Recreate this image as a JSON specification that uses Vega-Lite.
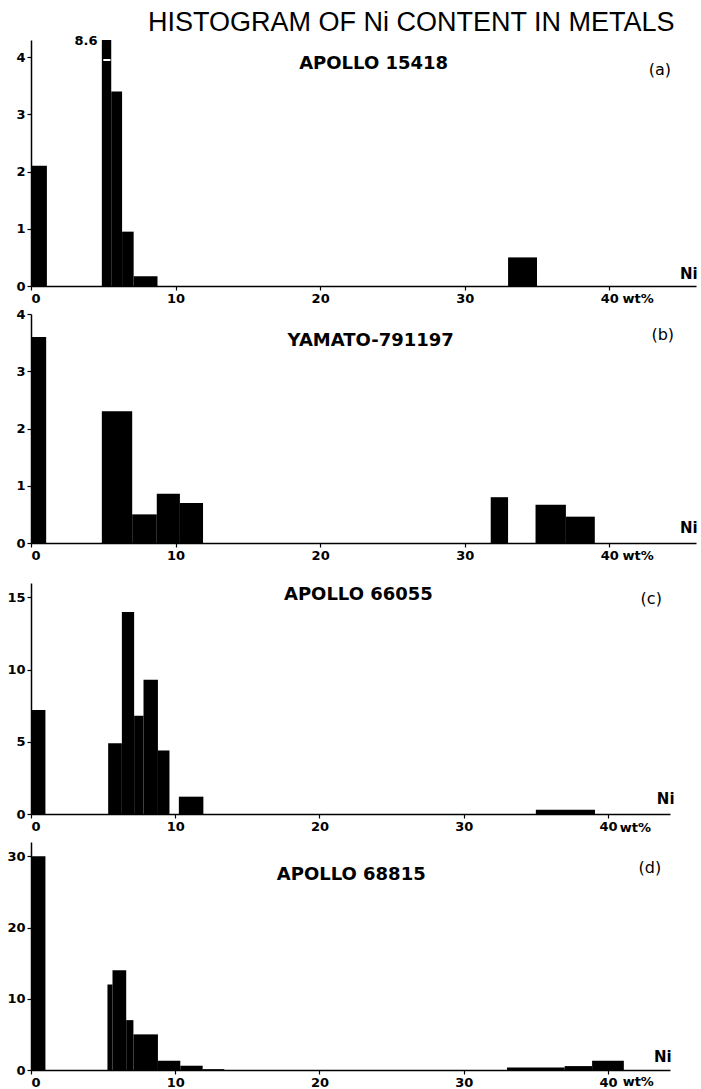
{
  "$schema": "https://vega.github.io/schema/vega-lite/v6.json",
  "padding": {"left": 6, "top": 8, "right": 3, "bottom": 0},
  "datasets": {
    "a": [
      {"lo": 0, "hi": 1.1, "n": 2.1},
      {"lo": 4.9, "hi": 5.55, "n": 8.6},
      {"lo": 5.55, "hi": 6.3, "n": 3.4},
      {"lo": 6.3, "hi": 7.1, "n": 0.95},
      {"lo": 7.1, "hi": 8.75, "n": 0.17},
      {"lo": 33, "hi": 35, "n": 0.5}
    ],
    "b": [
      {"lo": 0, "hi": 1.05, "n": 3.6},
      {"lo": 4.9, "hi": 7.0, "n": 2.3},
      {"lo": 7.0, "hi": 8.7, "n": 0.5},
      {"lo": 8.7, "hi": 10.3, "n": 0.86},
      {"lo": 10.3, "hi": 11.9, "n": 0.7},
      {"lo": 31.8, "hi": 33.0, "n": 0.8},
      {"lo": 34.9, "hi": 37.0, "n": 0.67},
      {"lo": 37.0, "hi": 39.0, "n": 0.46}
    ],
    "c": [
      {"lo": 0, "hi": 1.0, "n": 7.2},
      {"lo": 5.35, "hi": 6.3, "n": 4.9},
      {"lo": 6.3, "hi": 7.15, "n": 14},
      {"lo": 7.15, "hi": 7.8, "n": 6.8},
      {"lo": 7.8, "hi": 8.8, "n": 9.3},
      {"lo": 8.8, "hi": 9.6, "n": 4.4},
      {"lo": 10.25, "hi": 11.95, "n": 1.2},
      {"lo": 35.0, "hi": 39.1, "n": 0.3}
    ],
    "d": [
      {"lo": 0, "hi": 1.0, "n": 30},
      {"lo": 5.3, "hi": 5.65, "n": 12},
      {"lo": 5.65, "hi": 6.6, "n": 14},
      {"lo": 6.6, "hi": 7.1, "n": 7},
      {"lo": 7.1, "hi": 8.8, "n": 5},
      {"lo": 8.8, "hi": 10.35, "n": 1.3},
      {"lo": 10.35, "hi": 11.9, "n": 0.6},
      {"lo": 11.9, "hi": 13.4, "n": 0.12},
      {"lo": 33, "hi": 37, "n": 0.35},
      {"lo": 37, "hi": 38.9, "n": 0.55},
      {"lo": 38.9, "hi": 41.1, "n": 1.3}
    ]
  },
  "vconcat": [
    {
      "bounds": "flush",
      "spacing": 28,
      "vconcat": [
        {
          "width": 665,
          "height": 246,
          "layer": [
            {
              "data": {"name": "a"},
              "mark": {"type": "rect", "color": "black", "clip": true},
              "encoding": {
                "x": {"field": "lo", "type": "quantitative", "scale": {"domain": [0, 46], "nice": false}, "axis": {"title": null, "values": [0, 10, 20, 30, 40], "format": "d", "labelPadding": 2, "tickSize": 4}},
                "x2": {"field": "hi"},
                "y": {"field": "n", "type": "quantitative", "scale": {"domain": [0, 4.3], "nice": false}, "axis": {"title": null, "values": [0, 1, 2, 3, 4], "format": "d", "labelPadding": 2, "tickSize": 4}},
                "y2": {"datum": 0}
              }
            },
            {
              "data": {"values": [{}]},
              "mark": {"type": "rule", "color": "white", "strokeWidth": 2},
              "encoding": {
                "x": {"datum": 5.0, "type": "quantitative", "scale": {"domain": [0, 46], "nice": false}},
                "x2": {"datum": 5.5},
                "y": {"datum": 3.95, "type": "quantitative", "scale": {"domain": [0, 4.3], "nice": false}}
              }
            },
            {
              "data": {"values": [{}]},
              "mark": {"type": "text", "text": "HISTOGRAM OF Ni CONTENT IN METALS", "font": "Liberation Sans", "fontSize": 27},
              "encoding": {
                "x": {"datum": 26.3, "type": "quantitative", "scale": {"domain": [0, 46], "nice": false}},
                "y": {"datum": 4.6, "type": "quantitative", "scale": {"domain": [0, 4.3], "nice": false}}
              }
            },
            {
              "data": {"values": [{}]},
              "mark": {"type": "text", "text": "APOLLO 15418", "fontWeight": "bold", "fontSize": 18},
              "encoding": {
                "x": {"datum": 23.7, "type": "quantitative", "scale": {"domain": [0, 46], "nice": false}},
                "y": {"datum": 3.88, "type": "quantitative", "scale": {"domain": [0, 4.3], "nice": false}}
              }
            },
            {
              "data": {"values": [{}]},
              "mark": {"type": "text", "text": "(a)", "fontSize": 16},
              "encoding": {
                "x": {"datum": 43.5, "type": "quantitative", "scale": {"domain": [0, 46], "nice": false}},
                "y": {"datum": 3.77, "type": "quantitative", "scale": {"domain": [0, 4.3], "nice": false}}
              }
            },
            {
              "data": {"values": [{}]},
              "mark": {"type": "text", "text": "8.6", "fontWeight": "bold", "fontSize": 13},
              "encoding": {
                "x": {"datum": 3.8, "type": "quantitative", "scale": {"domain": [0, 46], "nice": false}},
                "y": {"datum": 4.28, "type": "quantitative", "scale": {"domain": [0, 4.3], "nice": false}}
              }
            },
            {
              "data": {"values": [{}]},
              "mark": {"type": "text", "text": "Ni", "fontWeight": "bold", "fontSize": 15},
              "encoding": {
                "x": {"datum": 45.5, "type": "quantitative", "scale": {"domain": [0, 46], "nice": false}},
                "y": {"datum": 0.21, "type": "quantitative", "scale": {"domain": [0, 4.3], "nice": false}}
              }
            },
            {
              "data": {"values": [{}]},
              "mark": {"type": "text", "text": "wt%", "fontWeight": "bold", "fontSize": 13},
              "encoding": {
                "x": {"datum": 42.0, "type": "quantitative", "scale": {"domain": [0, 46], "nice": false}},
                "y": {"datum": -0.22, "type": "quantitative", "scale": {"domain": [0, 4.3], "nice": false}}
              }
            }
          ]
        },
        {
          "width": 665,
          "height": 229,
          "layer": [
            {
              "data": {"name": "b"},
              "mark": {"type": "rect", "color": "black", "clip": true},
              "encoding": {
                "x": {"field": "lo", "type": "quantitative", "scale": {"domain": [0, 46], "nice": false}, "axis": {"title": null, "values": [0, 10, 20, 30, 40], "format": "d", "labelPadding": 2, "tickSize": 4}},
                "x2": {"field": "hi"},
                "y": {"field": "n", "type": "quantitative", "scale": {"domain": [0, 4], "nice": false}, "axis": {"title": null, "values": [0, 1, 2, 3, 4], "format": "d", "labelPadding": 2, "tickSize": 4}},
                "y2": {"datum": 0}
              }
            },
            {
              "data": {"values": [{}]},
              "mark": {"type": "text", "text": "YAMATO-791197", "fontWeight": "bold", "fontSize": 18},
              "encoding": {
                "x": {"datum": 23.5, "type": "quantitative", "scale": {"domain": [0, 46], "nice": false}},
                "y": {"datum": 3.52, "type": "quantitative", "scale": {"domain": [0, 4], "nice": false}}
              }
            },
            {
              "data": {"values": [{}]},
              "mark": {"type": "text", "text": "(b)", "fontSize": 16},
              "encoding": {
                "x": {"datum": 43.7, "type": "quantitative", "scale": {"domain": [0, 46], "nice": false}},
                "y": {"datum": 3.64, "type": "quantitative", "scale": {"domain": [0, 4], "nice": false}}
              }
            },
            {
              "data": {"values": [{}]},
              "mark": {"type": "text", "text": "Ni", "fontWeight": "bold", "fontSize": 15},
              "encoding": {
                "x": {"datum": 45.5, "type": "quantitative", "scale": {"domain": [0, 46], "nice": false}},
                "y": {"datum": 0.26, "type": "quantitative", "scale": {"domain": [0, 4], "nice": false}}
              }
            },
            {
              "data": {"values": [{}]},
              "mark": {"type": "text", "text": "wt%", "fontWeight": "bold", "fontSize": 13},
              "encoding": {
                "x": {"datum": 42.0, "type": "quantitative", "scale": {"domain": [0, 46], "nice": false}},
                "y": {"datum": -0.22, "type": "quantitative", "scale": {"domain": [0, 4], "nice": false}}
              }
            }
          ]
        }
      ]
    },
    {
      "bounds": "flush",
      "spacing": 28,
      "vconcat": [
        {
          "width": 639,
          "height": 231,
          "layer": [
            {
              "data": {"name": "c"},
              "mark": {"type": "rect", "color": "black", "clip": true},
              "encoding": {
                "x": {"field": "lo", "type": "quantitative", "scale": {"domain": [0, 44.3], "nice": false}, "axis": {"title": null, "values": [0, 10, 20, 30, 40], "format": "d", "labelPadding": 2, "tickSize": 4}},
                "x2": {"field": "hi"},
                "y": {"field": "n", "type": "quantitative", "scale": {"domain": [0, 16], "nice": false}, "axis": {"title": null, "values": [0, 5, 10, 15], "format": "d", "labelPadding": 2, "tickSize": 4}},
                "y2": {"datum": 0}
              }
            },
            {
              "data": {"values": [{}]},
              "mark": {"type": "text", "text": "APOLLO 66055", "fontWeight": "bold", "fontSize": 18},
              "encoding": {
                "x": {"datum": 22.7, "type": "quantitative", "scale": {"domain": [0, 44.3], "nice": false}},
                "y": {"datum": 15.2, "type": "quantitative", "scale": {"domain": [0, 16], "nice": false}}
              }
            },
            {
              "data": {"values": [{}]},
              "mark": {"type": "text", "text": "(c)", "fontSize": 16},
              "encoding": {
                "x": {"datum": 43.0, "type": "quantitative", "scale": {"domain": [0, 44.3], "nice": false}},
                "y": {"datum": 14.9, "type": "quantitative", "scale": {"domain": [0, 16], "nice": false}}
              }
            },
            {
              "data": {"values": [{}]},
              "mark": {"type": "text", "text": "Ni", "fontWeight": "bold", "fontSize": 15},
              "encoding": {
                "x": {"datum": 44.0, "type": "quantitative", "scale": {"domain": [0, 44.3], "nice": false}},
                "y": {"datum": 1.06, "type": "quantitative", "scale": {"domain": [0, 16], "nice": false}}
              }
            },
            {
              "data": {"values": [{}]},
              "mark": {"type": "text", "text": "wt%", "fontWeight": "bold", "fontSize": 13},
              "encoding": {
                "x": {"datum": 41.9, "type": "quantitative", "scale": {"domain": [0, 44.3], "nice": false}},
                "y": {"datum": -0.95, "type": "quantitative", "scale": {"domain": [0, 16], "nice": false}}
              }
            }
          ]
        },
        {
          "width": 639,
          "height": 228,
          "layer": [
            {
              "data": {"name": "d"},
              "mark": {"type": "rect", "color": "black", "clip": true},
              "encoding": {
                "x": {"field": "lo", "type": "quantitative", "scale": {"domain": [0, 44.3], "nice": false}, "axis": {"title": null, "values": [0, 10, 20, 30, 40], "format": "d", "labelPadding": 2, "tickSize": 4}},
                "x2": {"field": "hi"},
                "y": {"field": "n", "type": "quantitative", "scale": {"domain": [0, 32], "nice": false}, "axis": {"title": null, "values": [0, 10, 20, 30], "format": "d", "labelPadding": 2, "tickSize": 4}},
                "y2": {"datum": 0}
              }
            },
            {
              "data": {"values": [{}]},
              "mark": {"type": "text", "text": "APOLLO 68815", "fontWeight": "bold", "fontSize": 18},
              "encoding": {
                "x": {"datum": 22.2, "type": "quantitative", "scale": {"domain": [0, 44.3], "nice": false}},
                "y": {"datum": 27.4, "type": "quantitative", "scale": {"domain": [0, 32], "nice": false}}
              }
            },
            {
              "data": {"values": [{}]},
              "mark": {"type": "text", "text": "(d)", "fontSize": 16},
              "encoding": {
                "x": {"datum": 42.9, "type": "quantitative", "scale": {"domain": [0, 44.3], "nice": false}},
                "y": {"datum": 28.4, "type": "quantitative", "scale": {"domain": [0, 32], "nice": false}}
              }
            },
            {
              "data": {"values": [{}]},
              "mark": {"type": "text", "text": "Ni", "fontWeight": "bold", "fontSize": 15},
              "encoding": {
                "x": {"datum": 43.8, "type": "quantitative", "scale": {"domain": [0, 44.3], "nice": false}},
                "y": {"datum": 1.87, "type": "quantitative", "scale": {"domain": [0, 32], "nice": false}}
              }
            },
            {
              "data": {"values": [{}]},
              "mark": {"type": "text", "text": "wt%", "fontWeight": "bold", "fontSize": 13},
              "encoding": {
                "x": {"datum": 42.1, "type": "quantitative", "scale": {"domain": [0, 44.3], "nice": false}},
                "y": {"datum": -1.75, "type": "quantitative", "scale": {"domain": [0, 32], "nice": false}}
              }
            }
          ]
        }
      ]
    }
  ],
  "bounds": "full",
  "spacing": 20,
  "config": {
    "view": {"stroke": null},
    "axis": {
      "domainColor": "black",
      "domainWidth": 1.5,
      "tickColor": "black",
      "tickWidth": 1.2,
      "labelColor": "black",
      "labelFont": "DejaVu Sans",
      "labelFontWeight": "bold",
      "labelFontSize": 13,
      "grid": false
    },
    "text": {"font": "DejaVu Sans", "color": "black"}
  }
}
